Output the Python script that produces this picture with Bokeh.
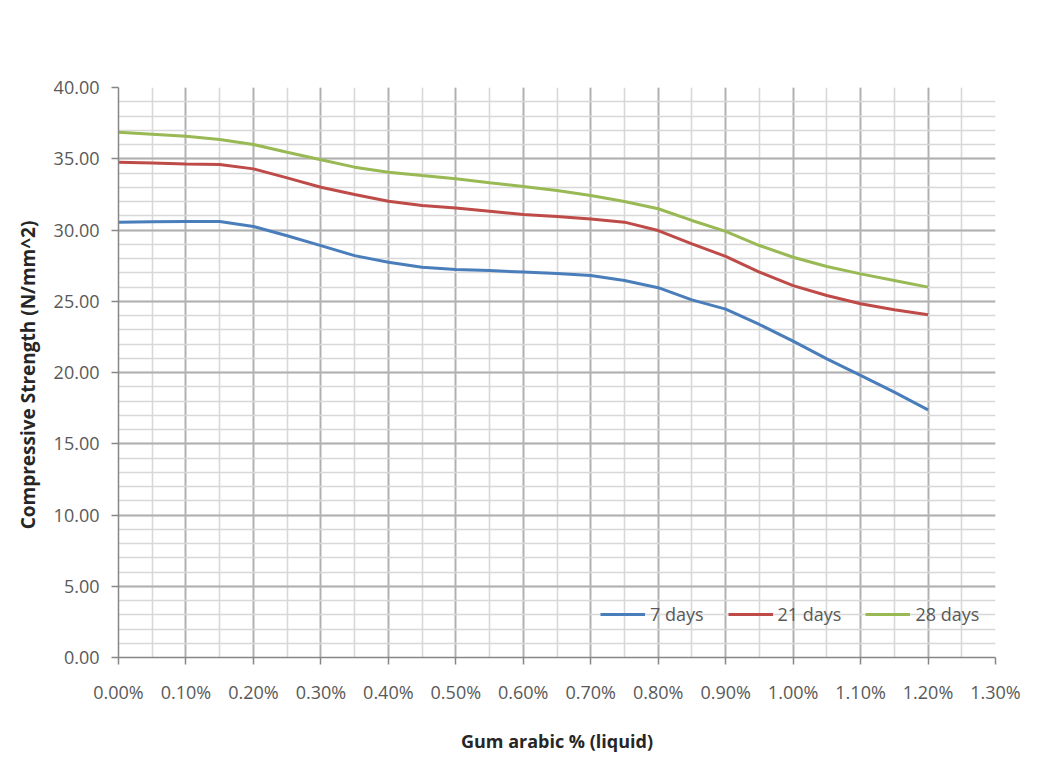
from bokeh.plotting import figure
from bokeh.models import SingleIntervalTicker, NumeralTickFormatter, PrintfTickFormatter, Legend, LegendItem, Range1d
from bokeh.embed import file_html
from bokeh.resources import INLINE

# Gum arabic dosage (% liquid)
gum_pct = [0.00, 0.05, 0.10, 0.15, 0.20, 0.25, 0.30, 0.35, 0.40, 0.45, 0.50, 0.55,
           0.60, 0.65, 0.70, 0.75, 0.80, 0.85, 0.90, 0.95, 1.00, 1.05, 1.10, 1.15, 1.20]
# Compressive strength (N/mm^2)
days_7 = [30.55, 30.58, 30.60, 30.60, 30.25, 29.60, 28.90, 28.20, 27.74, 27.39, 27.23, 27.15,
          27.05, 26.95, 26.81, 26.45, 25.95, 25.10, 24.45, 23.37, 22.20, 20.96, 19.80, 18.62, 17.38]
days_21 = [34.76, 34.70, 34.64, 34.60, 34.29, 33.66, 33.00, 32.49, 32.02, 31.72, 31.55, 31.32,
           31.09, 30.95, 30.78, 30.55, 29.96, 29.03, 28.15, 27.05, 26.10, 25.40, 24.82, 24.40, 24.05]
days_28 = [36.86, 36.72, 36.58, 36.35, 36.00, 35.46, 34.93, 34.41, 34.06, 33.82, 33.59, 33.31,
           33.05, 32.77, 32.42, 32.00, 31.49, 30.67, 29.90, 28.91, 28.09, 27.44, 26.92, 26.46, 25.99]

series_names = ["7 days", "21 days", "28 days"]
series_colors = ["#4A7EBB", "#BE4B48", "#98B954"]

FONT = "Open Sans"

p = figure(output_backend="svg", toolbar_location=None,
           frame_width=877, frame_height=570,
           x_range=Range1d(0, 1.3), y_range=Range1d(0, 40))
p.min_border_left = 118
p.min_border_right = 49
p.min_border_top = 87
p.min_border_bottom = 97
p.outline_line_color = None
p.background_fill_color = "white"
p.border_fill_color = "white"

# axes
p.xaxis.ticker = SingleIntervalTicker(interval=0.1, num_minor_ticks=2)
p.yaxis.ticker = SingleIntervalTicker(interval=5, num_minor_ticks=5)
p.xaxis.formatter = PrintfTickFormatter(format="%.2f%%")
p.yaxis.formatter = NumeralTickFormatter(format="0.00")

for ax in (p.xaxis[0], p.yaxis[0]):
    ax.axis_line_color = "#868686"
    ax.axis_line_width = 1.5
    ax.major_tick_line_color = "#868686"
    ax.major_tick_line_width = 1.5
    ax.major_tick_out = 7
    ax.major_tick_in = 0
    ax.minor_tick_out = 0
    ax.minor_tick_in = 0
    ax.major_label_text_font = FONT
    ax.major_label_text_font_size = "18px"
    ax.major_label_text_color = "#595959"
    ax.axis_label_text_font = FONT
    ax.axis_label_text_font_style = "bold"
    ax.axis_label_text_color = "#262626"

p.xaxis.axis_label_text_font_size = "18px"
p.yaxis.axis_label_text_font_size = "19px"
p.xaxis.major_label_standoff = 15
p.yaxis.major_label_standoff = 12
p.xaxis.axis_label = "Gum arabic % (liquid)"
p.yaxis.axis_label = "Compressive Strength  (N/mm^2)"
p.xaxis.axis_label_standoff = 22
p.yaxis.axis_label_standoff = 10

# grids
for g in (p.xgrid[0], p.ygrid[0]):
    g.grid_line_color = "#b0b0b0"
    g.grid_line_width = 1.8
    g.minor_grid_line_color = "#d8d8d8"
    g.minor_grid_line_width = 1.6

# lines
renderers = []
for ys, c in zip([days_7, days_21, days_28], series_colors):
    r = p.line(gum_pct, ys, line_color=c, line_width=3)
    renderers.append(r)

legend = Legend(items=[LegendItem(label=n, renderers=[r]) for n, r in zip(series_names, renderers)],
                orientation="horizontal", location=(472, 21))
legend.background_fill_alpha = 0
legend.border_line_alpha = 0
legend.glyph_width = 45
legend.label_standoff = 5
legend.spacing = 24
legend.label_text_font = FONT
legend.label_text_font_size = "18px"
legend.label_text_color = "#595959"
p.add_layout(legend, "center")

open("out.html", "w").write(file_html(p, INLINE))
